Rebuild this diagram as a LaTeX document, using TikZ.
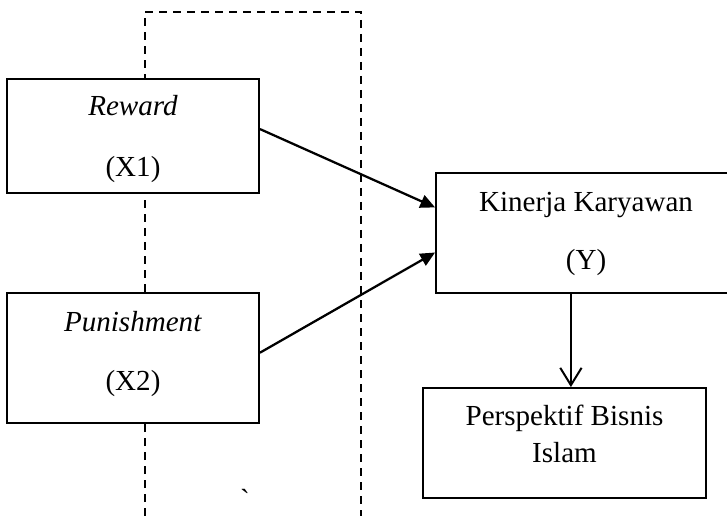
\documentclass[tikz,border=0pt]{standalone}
\usepackage{fontspec}
\setmainfont{Liberation Serif}
\usetikzlibrary{arrows.meta,calc}
\tikzset{
  box/.style={draw=black, fill=white, line width=1.4pt, inner sep=0pt},
  lbl/.style={anchor=base, inner sep=0pt, font=\fontsize{21.8pt}{27pt}\selectfont},
  link/.style={line width=1.7pt, -{Triangle[length=11pt,width=10pt]}},
  openlink/.style={line width=1.5pt, -{Straight Barb[length=13pt,width=16pt,line width=1.5pt]}},
  guide/.style={line width=1.3pt, dash pattern=on 6pt off 4.5pt},
}
\begin{document}
\begin{tikzpicture}[x=0.75pt,y=-0.75pt]
\useasboundingbox (0,0) rectangle (727,516);
\clip (0,0) rectangle (727,516);
% dashed frame
\coordinate (d1) at (145,516);
\coordinate (d2) at (145,12);
\coordinate (d3) at (361,12);
\coordinate (d4) at (361,516);
\draw[guide] (d1) -- (d2) -- (d3) -- (d4);
% boxes
\node[box, minimum width=252*0.75pt, minimum height=114*0.75pt] (rew) at (133,136) {};
\node[box, minimum width=252*0.75pt, minimum height=130*0.75pt] (pun) at (133,358) {};
\node[box, minimum width=300*0.75pt, minimum height=120*0.75pt] (kin) at (586,233) {};
\node[box, minimum width=283*0.75pt, minimum height=110*0.75pt] (per) at (564.5,443) {};
% labels
\node[lbl] (t1) at (133,116) {\textit{Reward}};
\node[lbl] (t2) at (133,177) {(X1)};
\node[lbl] (t3) at (133,331) {\textit{Punishment}};
\node[lbl] (t4) at (133,390) {(X2)};
\node[lbl] (t5) at (586,212) {Kinerja Karyawan};
\node[lbl] (t6) at (586,270) {(Y)};
\node[lbl] (t7) at (564.5,425) {Perspektif Bisnis};
\node[lbl] (t8) at (564.5,462) {Islam};
\node[lbl] (tick) at (245,509) {\textasciigrave};
% connectors
\coordinate (ra) at ($(rew.north east)!0.44!(rew.south east)$);
\coordinate (pa) at ($(pun.north east)!0.46!(pun.south east)$);
\coordinate (ka) at ($(kin.north west)!0.29!(kin.south west)$);
\coordinate (kb) at ($(kin.north west)!0.66!(kin.south west)$);
\coordinate (kc) at ($(kin.south west)!0.45!(kin.south east)$);
\draw[link] (ra) -- (ka);
\draw[link] (pa) -- (kb);
\draw[openlink] (kc) -- (kc |- per.north);
\end{tikzpicture}
\end{document}
